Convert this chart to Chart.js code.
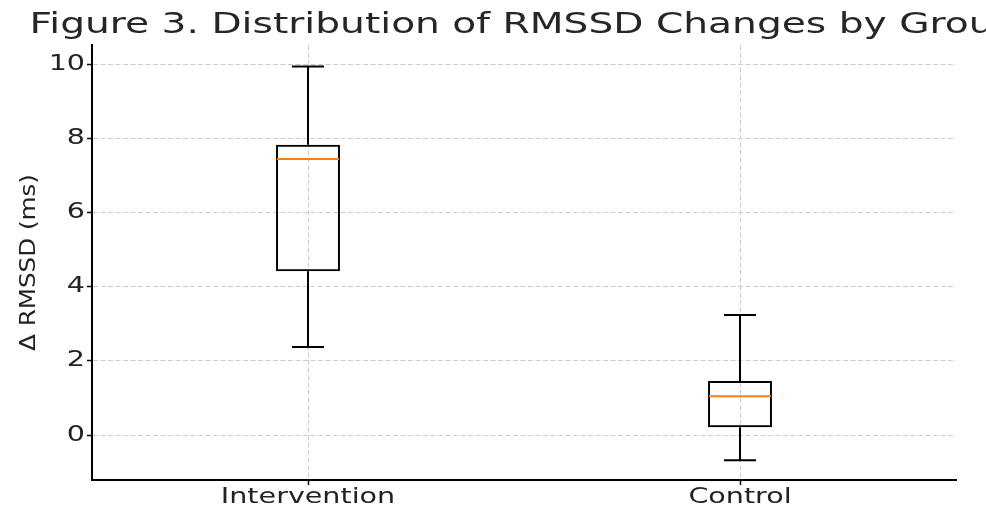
<!DOCTYPE html>
<html>
<head>
<meta charset="utf-8">
<script src="https://cdn.jsdelivr.net/npm/chart.js@4/dist/chart.umd.min.js"></script>
<style>
  body { margin: 0; background: #fff; }
</style>
</head>
<body>
<canvas id="grafico" width="986" height="508"></canvas>
<script>
var grupos = ['Intervention', 'Control'];
var minimos = [2.38, -0.68];
var q1s = [4.42, 0.21];
var medianas = [7.45, 1.05];
var q3s = [7.83, 1.46];
var maximos = [9.94, 3.24];
var marcasY = [0, 2, 4, 6, 8, 10];

// a fonte da figura original e mais larga que a DejaVu
var ESTICA_HORIZONTAL = 1.36;
var ESTICA_VERTICAL = 1.2;

var ctx = document.getElementById('grafico').getContext('2d');
var fillTextOriginal = ctx.fillText;
ctx.fillText = function (texto, x, y) {
    var m = this.getTransform();
    var k = Math.abs(m.b) > 0.5 ? ESTICA_VERTICAL : ESTICA_HORIZONTAL;
    this.save();
    this.translate(x, y);
    this.scale(k, 1);
    fillTextOriginal.call(this, texto, 0, 0);
    this.restore();
};

var caixas = [];
for (let i = 0; i < grupos.length; i++) {
    caixas[i] = [q1s[i], q3s[i]];
}

// bigodes, tampas e mediana
var bigodes = {
    id: 'bigodes',
    afterDatasetsDraw: function (chart) {
        var c = chart.ctx;
        var y = chart.scales.y;
        var meta = chart.getDatasetMeta(0);
        c.save();
        c.lineCap = 'butt';
        for (let i = 0; i < grupos.length; i++) {
            var barra = meta.data[i];
            var cx = barra.x;
            var meia = barra.width / 2;
            c.strokeStyle = '#000';
            c.lineWidth = 2;
            c.beginPath();
            c.moveTo(cx, y.getPixelForValue(q3s[i]));
            c.lineTo(cx, y.getPixelForValue(maximos[i]));
            c.moveTo(cx, y.getPixelForValue(q1s[i]));
            c.lineTo(cx, y.getPixelForValue(minimos[i]));
            c.moveTo(cx - meia / 2, y.getPixelForValue(maximos[i]));
            c.lineTo(cx + meia / 2, y.getPixelForValue(maximos[i]));
            c.moveTo(cx - meia / 2, y.getPixelForValue(minimos[i]));
            c.lineTo(cx + meia / 2, y.getPixelForValue(minimos[i]));
            c.stroke();
            c.strokeStyle = '#ff7f0e';
            c.beginPath();
            c.moveTo(cx - meia + 1, y.getPixelForValue(medianas[i]));
            c.lineTo(cx + meia - 1, y.getPixelForValue(medianas[i]));
            c.stroke();
        }
        c.restore();
    }
};

Chart.defaults.font.family = "'DejaVu Sans'";
Chart.defaults.color = '#222';

new Chart(ctx, {
    type: 'bar',
    data: {
        labels: grupos,
        datasets: [{
            data: caixas,
            backgroundColor: 'rgba(0,0,0,0)',
            borderColor: '#000',
            borderWidth: 2,
            borderSkipped: false,
            barPercentage: 0.148,
            categoryPercentage: 1
        }]
    },
    options: {
        responsive: false,
        animation: false,
        layout: { padding: { left: 17, right: 30, top: 0, bottom: 0 } },
        plugins: {
            legend: { display: false },
            tooltip: { enabled: false },
            title: {
                display: true,
                text: 'Figure 3. Distribution of RMSSD Changes by Group',
                fullSize: false,
                color: '#262626',
                font: { size: 28.8, weight: 'normal', lineHeight: 1.2 },
                padding: { top: 8.5, bottom: 2 }
            }
        },
        scales: {
            x: {
                offset: true,
                grid: {
                    offset: false,
                    color: '#cccccc',
                    lineWidth: 1,
                    tickLength: 5,
                    tickColor: '#000',
                    tickWidth: 1.5
                },
                border: { display: true, color: '#000', width: 2, dash: [5, 2.5] },
                ticks: { font: { size: 21 }, color: '#222', padding: 0 },
                afterFit: function (escala) { escala.height = 28; }
            },
            y: {
                min: -1.21,
                max: 10.52,
                afterBuildTicks: function (escala) {
                    escala.ticks = marcasY.map(function (v) { return { value: v }; });
                },
                grid: {
                    color: '#cccccc',
                    lineWidth: 1,
                    tickLength: 5,
                    tickColor: '#000',
                    tickWidth: 1.5
                },
                border: { display: true, color: '#000', width: 2, dash: [5, 2.5] },
                ticks: { font: { size: 21 }, color: '#222', padding: 2 },
                title: {
                    display: true,
                    text: 'Δ RMSSD (ms)',
                    color: '#222',
                    font: { size: 20.5 },
                    padding: { top: 0, bottom: 0 }
                },
                afterFit: function (escala) { escala.width = 75; }
            }
        }
    },
    plugins: [bigodes]
});
</script>
</body>
</html>
